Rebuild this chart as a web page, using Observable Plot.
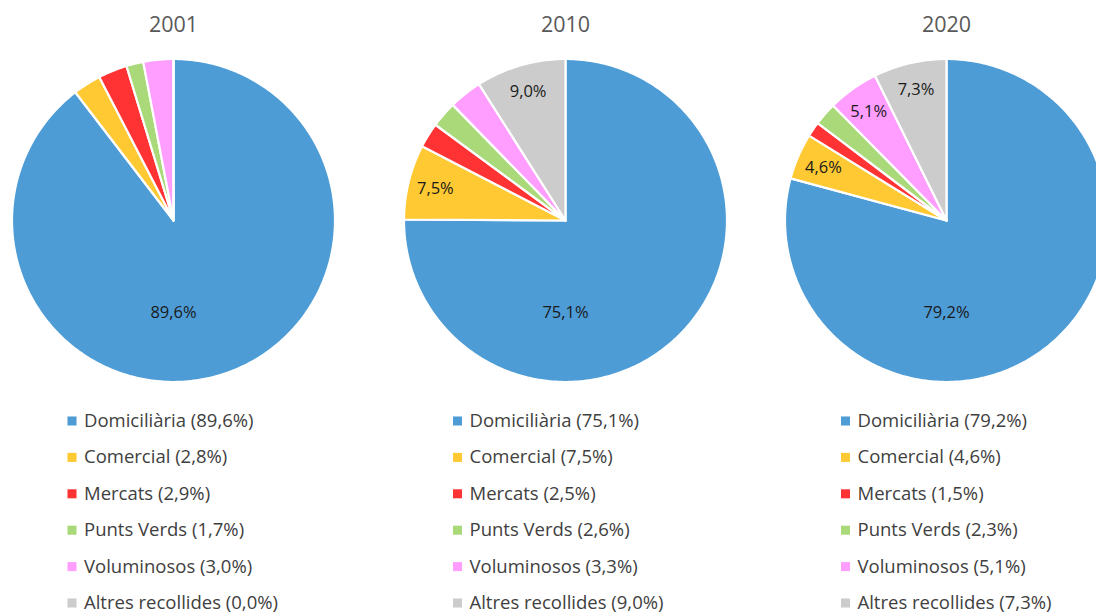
<!DOCTYPE html>
<html><head><meta charset="utf-8">
<script src="https://cdn.jsdelivr.net/npm/d3@7"></script>
<script src="https://cdn.jsdelivr.net/npm/@observablehq/plot@0.6"></script>
<style>body{margin:0;background:#fff;overflow:hidden}</style>
</head><body><div id="chart"></div>
<script>
const years = ["2001", "2010", "2020"];
const categories = ["Domiciliària", "Comercial", "Mercats", "Punts Verds", "Voluminosos", "Altres recollides"];
const values2001 = [89.6, 2.8, 2.9, 1.7, 3.0, 0.0];
const values2010 = [75.1, 7.5, 2.5, 2.6, 3.3, 9.0];
const values2020 = [79.2, 4.6, 1.5, 2.3, 5.1, 7.3];
const colors = ["#4e9cd5", "#ffc933", "#ff3333", "#a9d979", "#ff9eff", "#cccccc"];

const W = 1096, H = 616;
const centersX = [173, 565, 946], cy = 220, R = 161.5;
const legendX = [71.5, 457, 845], legendY0 = 420.5, legendStep = 36.4;
const seriesList = [values2001, values2010, values2020];
const fmt = v => v.toFixed(1).replace(".", ",");

const wedgePts = [], labels = [], titles = [], legendRows = [];
seriesList.forEach((vals, p) => {
  const cx = centersX[p];
  titles.push({x: cx, y: 25, text: years[p]});
  let cum = 0;
  vals.forEach((v, i) => {
    const a0 = cum / 100 * 2 * Math.PI, a1 = (cum + v) / 100 * 2 * Math.PI;
    const id = p + "-" + i;
    wedgePts.push({id, x: cx, y: cy, c: colors[i]});
    const n = Math.max(2, Math.ceil((a1 - a0) / (Math.PI / 180)) + 1);
    for (let k = 0; k < n; k++) {
      const a = a0 + (a1 - a0) * k / (n - 1);
      wedgePts.push({id, x: cx + R * Math.sin(a), y: cy - R * Math.cos(a), c: colors[i]});
    }
    wedgePts.push({id, x: cx, y: cy, c: colors[i]});
    if (v >= 4) {
      const big = v > 50;
      const am = big ? Math.PI : (a0 + a1) / 2;
      const rr = big ? 0.57 * R : 0.83 * R;
      labels.push({x: cx + rr * Math.sin(am), y: cy - rr * Math.cos(am), text: fmt(v) + "%"});
    }
    legendRows.push({x: legendX[p], y: legendY0 + i * legendStep, c: colors[i], text: `${categories[i]} (${fmt(v)}%)`});
    cum += v;
  });
});

const font = "'Open Sans', sans-serif";
const chart = Plot.plot({
  width: W, height: H, margin: 0,
  x: {domain: [0, W], range: [0, W], axis: null},
  y: {domain: [0, H], range: [0, H], axis: null},
  color: {type: "identity"},
  style: {fontFamily: font, background: "#fff"},
  marks: [
    Plot.line(wedgePts, {x: "x", y: "y", z: "id", fill: "c", stroke: "#fff", strokeWidth: 2.2, strokeLinejoin: "round", curve: "linear"}),
    Plot.text(labels, {x: "x", y: "y", text: "text", fontSize: 16.5, fill: "#1a1a1a"}),
    Plot.text(titles, {x: "x", y: "y", text: "text", fontSize: 21.5, fill: "#595959"}),
    Plot.dot(legendRows, {x: "x", y: "y", symbol: "square", r: 5.1, fill: "c", stroke: null}),
    Plot.text(legendRows, {x: d => d.x + 12, y: "y", text: "text", textAnchor: "start", fontSize: 18.5, fill: "#404040"})
  ]
});
document.getElementById("chart").append(chart);
</script>
</body></html>
